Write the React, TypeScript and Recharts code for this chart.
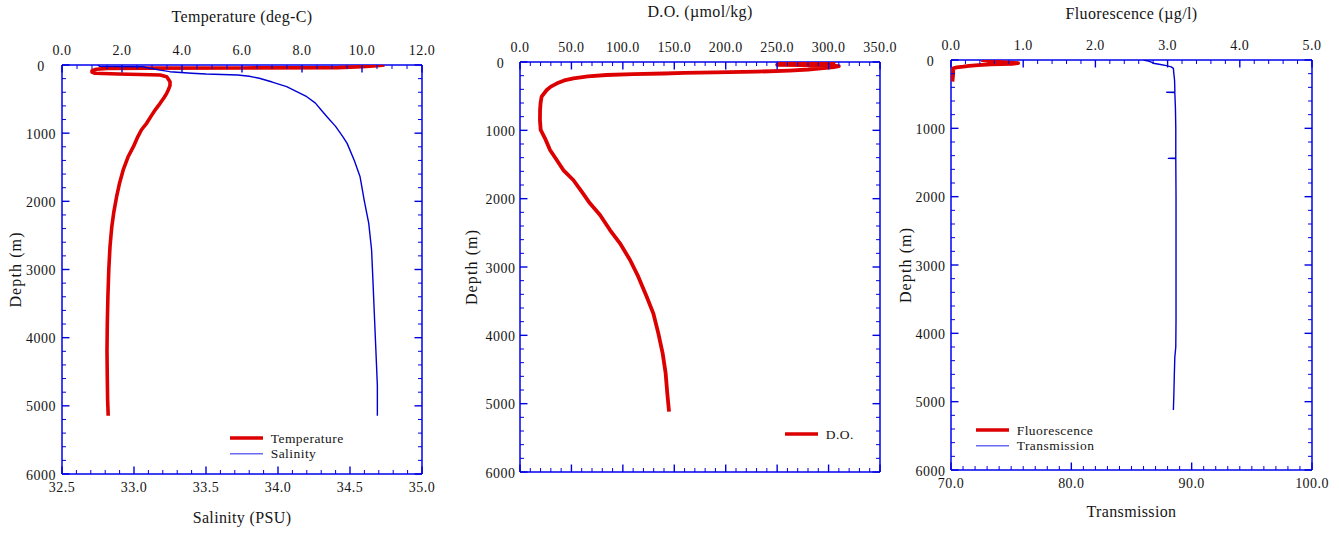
import React from 'react';
import { ComposedChart, XAxis, YAxis, Scatter, Legend } from 'recharts';

const FONT = '"Liberation Serif", "Times New Roman", Times, serif';
const FRAME = '#0000f0';
const TICK = '#0000e0';
const RED = '#dd0000';
const BLUE = '#0000d4';
const LEG_BLUE = '#6a6af2';
const INK = '#151515';

// ---------- tick labels ----------
const depthMajor = [0, 1000, 2000, 3000, 4000, 5000, 6000];
const depthMinorStep = 200;
const tempMajor = [0, 2, 4, 6, 8, 10, 12];
const tempMinorStep = 0.5;
const salMajor = [32.5, 33.0, 33.5, 34.0, 34.5, 35.0];
const salMinorStep = 0.1;
const doMajor = [0, 50, 100, 150, 200, 250, 300, 350];
const doMinorStep = 10;
const fluMajor = [0, 1, 2, 3, 4, 5];
const fluMinorStep = 0.2;
const trMajor = [70, 80, 90, 100];
const trMinorStep = 1;

// ---------- series: [depth (m), value] ----------
const temperature: [number, number][] = [
  [0, 10.75], [10, 10.5], [25, 10.0], [38, 9.2], [43, 6.0], [46, 2.8], [50, 1.5], [62, 1.15],
  [84, 1.0], [105, 1.0], [122, 1.1], [132, 1.87], [140, 2.6], [147, 3.27], [171, 3.49],
  [245, 3.6], [300, 3.6], [360, 3.55], [416, 3.49], [480, 3.4], [562, 3.27], [650, 3.12],
  [750, 2.97], [855, 2.82], [950, 2.65], [1050, 2.53], [1198, 2.38], [1350, 2.2], [1540, 2.04],
  [1730, 1.92], [1932, 1.82], [2150, 1.73], [2372, 1.66], [2665, 1.6], [3000, 1.56],
  [3400, 1.53], [3800, 1.51], [4200, 1.5], [4600, 1.51], [4900, 1.52], [5145, 1.54],
];
const salinity: [number, number][] = [
  [0, 32.75], [20, 32.76], [25, 33.06], [48, 33.11], [75, 33.18], [98, 33.25], [120, 33.4],
  [132, 33.5], [147, 33.72], [165, 33.8], [195, 33.87], [250, 33.96], [318, 34.06],
  [390, 34.13], [465, 34.2], [560, 34.26], [660, 34.3], [758, 34.34], [900, 34.4],
  [1050, 34.45], [1150, 34.48], [1400, 34.53], [1640, 34.57], [2000, 34.6], [2320, 34.63],
  [2714, 34.65], [3200, 34.66], [3700, 34.67], [4200, 34.68], [4700, 34.69], [5145, 34.69],
];
const oxygen: [number, number][] = [
  [0, 252], [3, 300], [10, 305], [20, 300], [28, 253], [40, 250], [50, 300], [60, 310],
  [75, 305], [90, 295], [110, 280], [125, 262], [142, 230], [152, 190], [160, 160],
  [168, 140], [178, 110], [190, 84], [210, 66], [239, 52], [270, 43], [312, 36], [360, 30],
  [410, 26], [508, 21], [600, 20], [700, 19.5], [849, 19.4], [995, 20.1], [1117, 24.3],
  [1288, 29.2], [1434, 35.7], [1581, 42.1], [1727, 51.8], [1898, 60], [2068, 68],
  [2239, 77.8], [2459, 87.5], [2653, 97.2], [2898, 107], [3142, 115], [3435, 123.2],
  [3678, 129.6], [3971, 134.5], [4264, 138.7], [4556, 141.6], [4849, 143.2], [5117, 144.9],
];
const fluorescence: [number, number][] = [
  [0, 0.42], [10, 0.5], [20, 0.55], [30, 0.7], [45, 0.93], [55, 0.85], [65, 0.55], [75, 0.38],
  [85, 0.25], [98, 0.17], [108, 0.08], [121, 0.03], [200, 0.03], [317, 0.02],
];
const transmission: [number, number][] = [
  [0, 86.0], [15, 86.4], [35, 86.7], [48, 86.8], [65, 87.4], [83, 87.9], [100, 88.3],
  [122, 88.48], [200, 88.52], [300, 88.58], [420, 88.6], [470, 88.6], [473, 87.93],
  [476, 88.6], [700, 88.65], [1000, 88.68], [1435, 88.68], [1439, 88.06], [1443, 88.68],
  [2000, 88.7], [3000, 88.7], [3800, 88.7], [4200, 88.68], [4350, 88.6], [4600, 88.56],
  [4900, 88.52], [5122, 88.48],
];

const toPoints = (rows: [number, number][]) => rows.map(([d, v]) => ({ d, v }));

const allTicks = (major: number[], step: number) => {
  const first = major[0];
  const last = major[major.length - 1];
  const n = Math.round((last - first) / step);
  return Array.from({ length: n + 1 }, (_, i) => +(first + i * step).toFixed(4));
};

type Side = 'top' | 'bottom' | 'left' | 'right';
interface TickCfg {
  side: Side;
  major: number[];
  decimals: number | null;
  gap: number;
}

const MAJOR_LEN = 7.5;
const MINOR_LEN = 4;
const labelStyle: React.CSSProperties = { fontFamily: FONT, fontSize: 14, letterSpacing: 0.45 };

function makeTick(cfg: TickCfg) {
  return function TickMark(props: any) {
    const { x, y, payload } = props;
    const v = Number(payload.value);
    const isMajor = cfg.major.some((m) => Math.abs(m - v) < 1e-6);
    const len = isMajor ? MAJOR_LEN : MINOR_LEN;
    let x2 = x;
    let y2 = y;
    if (cfg.side === 'top') y2 = y + len;
    else if (cfg.side === 'bottom') y2 = y - len;
    else if (cfg.side === 'left') x2 = x + len;
    else x2 = x - len;
    let text: React.ReactNode = null;
    if (cfg.decimals !== null && isMajor) {
      const s = v.toFixed(cfg.decimals);
      if (cfg.side === 'top') {
        text = <text x={x} y={y - cfg.gap} textAnchor="middle" fill={INK} style={labelStyle}>{s}</text>;
      } else if (cfg.side === 'bottom') {
        text = <text x={x} y={y + cfg.gap} textAnchor="middle" fill={INK} style={labelStyle}>{s}</text>;
      } else if (cfg.side === 'left') {
        text = <text x={x - cfg.gap} y={y + 5.5} textAnchor="middle" fill={INK} style={labelStyle}>{s}</text>;
      }
    }
    return (
      <g>
        <line x1={x} y1={y} x2={x2} y2={y2} stroke={TICK} strokeWidth={isMajor ? 1.4 : 1} />
        {text}
      </g>
    );
  };
}

const titleStyle: React.CSSProperties = { fontFamily: FONT, fontSize: 16, letterSpacing: 0.35 };

function Title(props: any) {
  const { px, py, txt, rotate } = props;
  if (rotate) {
    return (
      <text x={px} y={py} transform={`rotate(-90 ${px} ${py})`} textAnchor="middle" fill={INK}
        style={{ ...titleStyle, letterSpacing: 1.1 }}>{txt}</text>
    );
  }
  return <text x={px} y={py} textAnchor="middle" fill={INK} style={titleStyle}>{txt}</text>;
}

interface LegendItem { label: string; color: string; width: number; }

function LegendBox({ items }: { items: LegendItem[] }) {
  return (
    <svg width={150} height={items.length * 15.7 + 6} style={{ display: 'block', overflow: 'visible' }}>
      {items.map((it, i) => {
        const yy = 4 + i * 15.7;
        return (
          <g key={it.label}>
            <line x1={0} x2={33} y1={yy} y2={yy} stroke={it.color} strokeWidth={it.width} />
            <text x={40.7} y={yy + 4.6} fill={INK} style={{ fontFamily: FONT, fontSize: 13.5, letterSpacing: 0.45 }}>{it.label}</text>
          </g>
        );
      })}
    </svg>
  );
}

const NoDot = () => <g />;

interface SeriesCfg { rows: [number, number][]; axis: 'top' | 'bottom'; color: string; width: number; }
interface AxisCfg { domain: [number, number]; major: number[]; step: number; decimals: number | null; title?: string; titleY?: number; }

interface PanelCfg {
  left: number;
  width: number;
  height: number;
  plot: { l: number; r: number; t: number; b: number };
  top: AxisCfg;
  bottom: AxisCfg;
  depthGap: number;
  depthTitleX: number;
  series: SeriesCfg[];
  legend: LegendItem[];
  legendPos: { left: number; top: number };
}

function Panel({ cfg }: { cfg: PanelCfg }) {
  const { plot, width, height } = cfg;
  const cx = (plot.l + plot.r) / 2;
  const cy = (plot.t + plot.b) / 2;
  const frame = { stroke: FRAME, strokeWidth: 1.5 };
  const depthTicks = allTicks(depthMajor, depthMinorStep);
  return (
    <div style={{ position: 'absolute', left: cfg.left, top: 0, width, height }}>
      <ComposedChart width={width} height={height} margin={{ top: 0, right: 0, bottom: 0, left: 0 }}>
        <XAxis
          xAxisId="top" orientation="top" type="number" dataKey="v" domain={cfg.top.domain}
          allowDataOverflow ticks={allTicks(cfg.top.major, cfg.top.step)} interval={0}
          height={plot.t} tickSize={0} tickMargin={0} tickLine={false} axisLine={frame}
          tick={makeTick({ side: 'top', major: cfg.top.major, decimals: cfg.top.decimals, gap: 10.5 })}
          label={cfg.top.title ? <Title px={cx} py={cfg.top.titleY} txt={cfg.top.title} /> : undefined}
        />
        <XAxis
          xAxisId="bottom" orientation="bottom" type="number" dataKey="v" domain={cfg.bottom.domain}
          allowDataOverflow ticks={allTicks(cfg.bottom.major, cfg.bottom.step)} interval={0}
          height={height - plot.b} tickSize={0} tickMargin={0} tickLine={false} axisLine={frame}
          tick={makeTick({ side: 'bottom', major: cfg.bottom.major, decimals: cfg.bottom.decimals, gap: 17.5 })}
          label={cfg.bottom.title ? <Title px={cx} py={cfg.bottom.titleY} txt={cfg.bottom.title} /> : undefined}
        />
        <YAxis
          yAxisId="left" orientation="left" type="number" dataKey="d" domain={[0, 6000]} reversed
          allowDataOverflow ticks={depthTicks} interval={0} width={plot.l}
          tickSize={0} tickMargin={0} tickLine={false} axisLine={frame}
          tick={makeTick({ side: 'left', major: depthMajor, decimals: 0, gap: cfg.depthGap })}
          label={<Title px={cfg.depthTitleX} py={cy} txt="Depth (m)" rotate />}
        />
        <YAxis
          yAxisId="right" orientation="right" type="number" dataKey="d" domain={[0, 6000]} reversed
          allowDataOverflow ticks={depthTicks} interval={0} width={width - plot.r}
          tickSize={0} tickMargin={0} tickLine={false} axisLine={frame}
          tick={makeTick({ side: 'right', major: depthMajor, decimals: null, gap: 0 })}
        />
        {cfg.series.map((s, i) => (
          <Scatter
            key={i}
            xAxisId={s.axis}
            yAxisId="left"
            data={toPoints(s.rows)}
            fill={s.color}
            line={{ stroke: s.color, strokeWidth: s.width, strokeLinejoin: 'round' }}
            lineJointType="linear"
            shape={NoDot}
            legendType="none"
            isAnimationActive={false}
          />
        ))}
        <Legend
          layout="vertical" align="center" verticalAlign="middle"
          wrapperStyle={{ position: 'absolute', left: cfg.legendPos.left, top: cfg.legendPos.top, width: 150, margin: 0, lineHeight: 0 }}
          content={() => <LegendBox items={cfg.legend} />}
        />
      </ComposedChart>
    </div>
  );
}

const panels: PanelCfg[] = [
  {
    left: 0, width: 440, height: 533,
    plot: { l: 62, r: 422, t: 65, b: 474 },
    top: { domain: [0, 12], major: tempMajor, step: tempMinorStep, decimals: 1, title: 'Temperature (deg-C)', titleY: 22.3 },
    bottom: { domain: [32.5, 35], major: salMajor, step: salMinorStep, decimals: 1, title: 'Salinity (PSU)', titleY: 523.3 },
    depthGap: 21, depthTitleX: 20.7,
    series: [
      { rows: temperature, axis: 'top', color: RED, width: 3.6 },
      { rows: salinity, axis: 'bottom', color: BLUE, width: 1.4 },
    ],
    legend: [
      { label: 'Temperature', color: RED, width: 3.4 },
      { label: 'Salinity', color: LEG_BLUE, width: 1.6 },
    ],
    legendPos: { left: 230, top: 434.3 },
  },
  {
    left: 440, width: 462, height: 533,
    plot: { l: 80, r: 440, t: 62, b: 472 },
    top: { domain: [0, 350], major: doMajor, step: doMinorStep, decimals: 1, title: 'D.O. (\u00b5mol/kg)', titleY: 17.3 },
    bottom: { domain: [0, 350], major: doMajor, step: doMinorStep, decimals: null },
    depthGap: 19.5, depthTitleX: 36.7,
    series: [{ rows: oxygen, axis: 'top', color: RED, width: 3.8 }],
    legend: [{ label: 'D.O.', color: RED, width: 3.4 }],
    legendPos: { left: 345, top: 430 },
  },
  {
    left: 890, width: 449, height: 533,
    plot: { l: 61, r: 422, t: 60, b: 470 },
    top: { domain: [0, 5], major: fluMajor, step: fluMinorStep, decimals: 1, title: 'Fluorescence (\u00b5g/l)', titleY: 18.8 },
    bottom: { domain: [70, 100], major: trMajor, step: trMinorStep, decimals: 1, title: 'Transmission', titleY: 516.6 },
    depthGap: 20.5, depthTitleX: 21,
    series: [
      { rows: fluorescence, axis: 'top', color: RED, width: 3.8 },
      { rows: transmission, axis: 'bottom', color: BLUE, width: 1.4 },
    ],
    legend: [
      { label: 'Fluorescence', color: RED, width: 3.4 },
      { label: 'Transmission', color: LEG_BLUE, width: 1.6 },
    ],
    legendPos: { left: 86, top: 426 },
  },
];

export default function App() {
  return (
    <div style={{ position: 'absolute', left: 0, top: 0, width: 1339, height: 533, background: '#ffffff', overflow: 'hidden' }}>
      {panels.map((p, i) => (
        <Panel key={i} cfg={p} />
      ))}
    </div>
  );
}
